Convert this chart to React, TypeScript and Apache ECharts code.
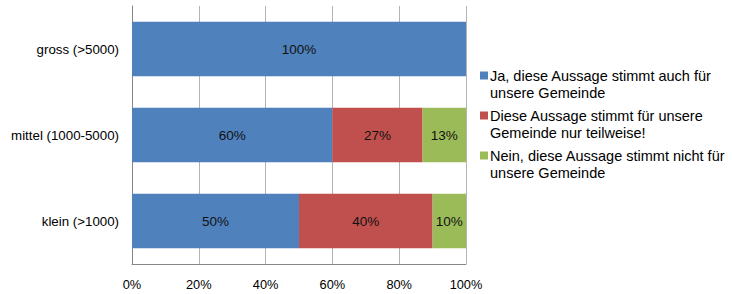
import React, { useEffect, useRef } from "react";
import * as echarts from "echarts";

const categories = ["gross (>5000)", "mittel (1000-5000)", "klein (>1000)"];
const seriesNames = [
  "Ja, diese Aussage stimmt auch für\nunsere Gemeinde",
  "Diese Aussage stimmt für unsere\nGemeinde nur teilweise!",
  "Nein, diese Aussage stimmt nicht für\nunsere Gemeinde",
];
const jaValues = [100, 60, 50];
const teilweiseValues = [0, 27, 40];
const neinValues = [0, 13, 10];
const xTicks = [0, 20, 40, 60, 80, 100];
const colors = ["#4F81BD", "#C0504D", "#9BBB59"];

const FONT = "'Liberation Sans', Arial, sans-serif";

export default function App() {
  const ref = useRef<HTMLDivElement>(null);
  useEffect(() => {
    if (!ref.current) return;
    const chart = echarts.init(ref.current, undefined, { renderer: "svg" });
    const values = [jaValues, teilweiseValues, neinValues];
    chart.setOption({
      animation: false,
      textStyle: { fontFamily: FONT },
      grid: { left: 132, right: 266, top: 6, bottom: 30, containLabel: false },
      legend: {
        orient: "vertical",
        left: 480,
        top: 50,
        padding: 0,
        icon: "rect",
        itemWidth: 8,
        itemHeight: 8,
        itemGap: -11,
        selectedMode: false,
        formatter: (name: string) => " \n" + name,
        textStyle: {
          fontFamily: FONT,
          fontSize: 14.5,
          color: "#000",
          lineHeight: 17,
          padding: [0, 0, 0, -3],
        },
        data: seriesNames,
      },
      xAxis: {
        type: "value",
        min: 0,
        max: 100,
        interval: 20,
        axisLine: { show: true, lineStyle: { color: "#868686", width: 1 } },
        axisTick: { show: false },
        splitLine: { show: true, lineStyle: { color: "#B3B3B3", width: 1 } },
        axisLabel: {
          formatter: (v: number) => (xTicks.includes(v) ? v + "%" : ""),
          fontFamily: FONT,
          fontSize: 12.8,
          color: "#000",
          margin: 14,
        },
      },
      yAxis: {
        type: "category",
        data: categories,
        inverse: true,
        axisLine: { show: true, lineStyle: { color: "#868686", width: 1 } },
        axisTick: { show: false },
        axisLabel: { fontFamily: FONT, fontSize: 13.3, color: "#000", margin: 13 },
      },
      series: seriesNames.map((name, i) => ({
        name,
        type: "bar",
        stack: "total",
        barCategoryGap: "36.5%",
        itemStyle: { color: colors[i] },
        label: {
          show: true,
          position: "inside",
          formatter: (p: any) => (p.value > 0 ? p.value + "%" : ""),
          fontFamily: FONT,
          fontSize: 13.5,
          color: "#111",
        },
        data: values[i],
      })),
    });
    return () => chart.dispose();
  }, []);
  return <div ref={ref} style={{ width: 732, height: 294, position: "absolute", left: 0, top: 0 }} />;
}
